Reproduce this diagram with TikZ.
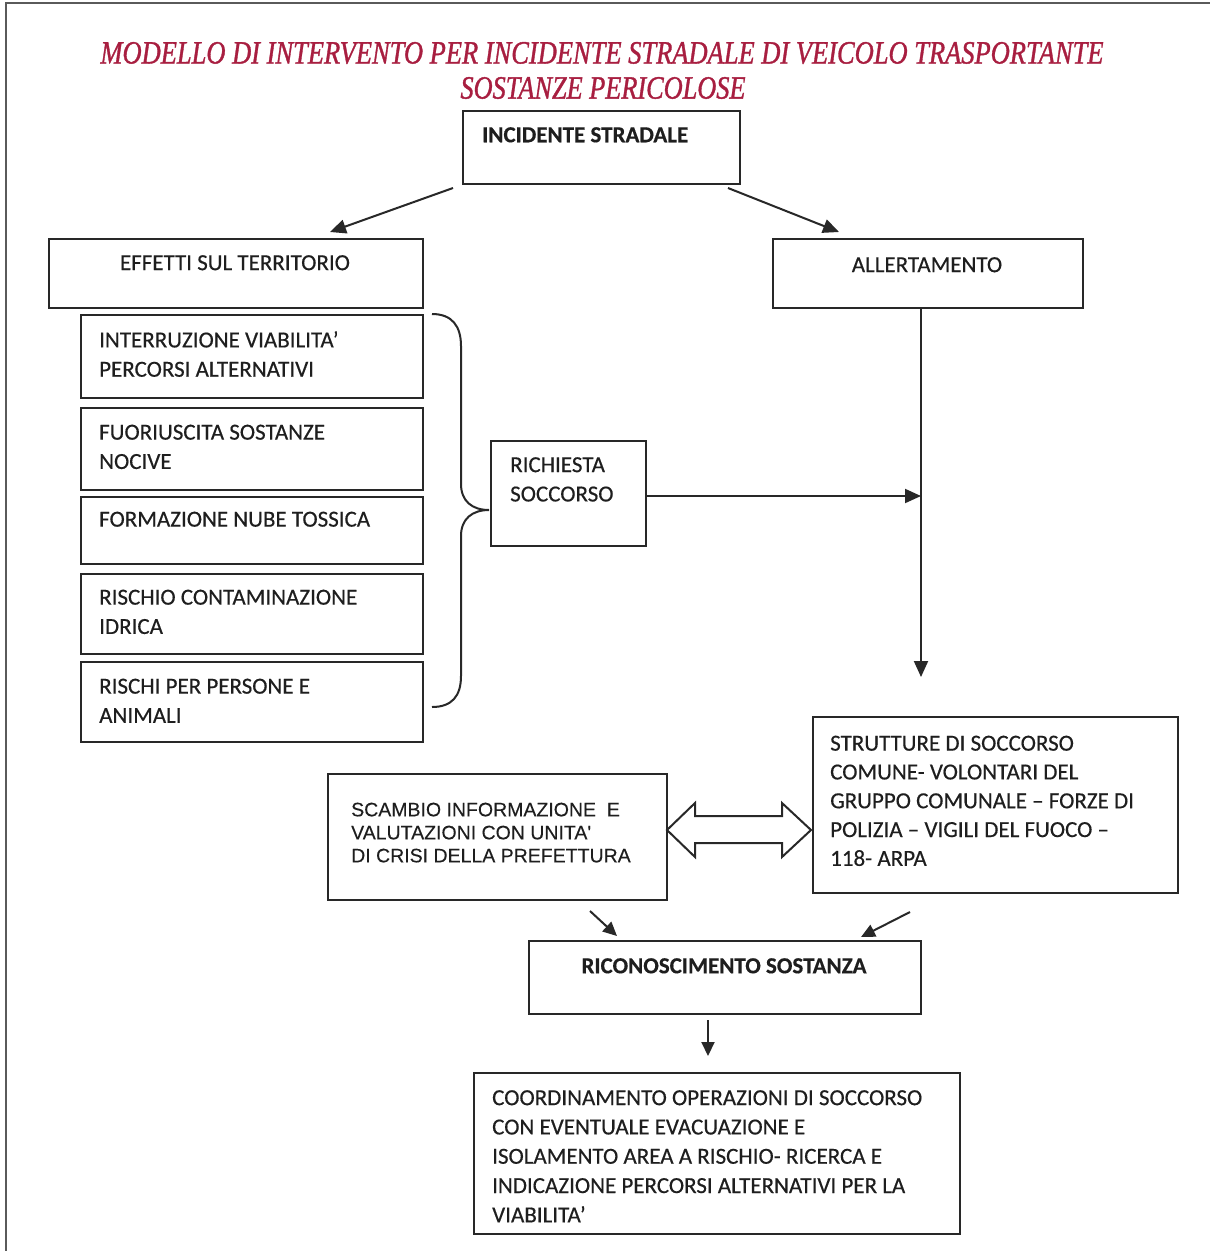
\documentclass[tikz,border=0pt]{standalone}
\usepackage{fontspec}
\usepackage{graphicx}
\setmainfont{Carlito}[FakeBold=0.4]
\newfontfamily\arialf{Liberation Sans}[FakeBold=0.2]
\newfontfamily\titlef{Liberation Serif}[FakeBold=1.2]
\usetikzlibrary{arrows.meta}
\definecolor{titlered}{RGB}{168,30,64}
\definecolor{linec}{RGB}{40,40,40}
\definecolor{txtc}{RGB}{30,30,30}
\definecolor{framec}{RGB}{90,90,90}
\tikzset{
  box/.style={draw=linec, line width=2pt, inner sep=0pt, anchor=north west},
  txt/.style={font=\fontsize{23}{29.3}\selectfont, text=txtc, inner sep=0pt, anchor=north west, align=left},
  btxt/.style={txt, font=\fontsize{23}{29.3}\selectfont\bfseries},
  atxt/.style={txt, font=\arialf\fontsize{19.5}{23}\selectfont},
  arr/.style={draw=linec, line width=2pt, -{Triangle[width=14pt,length=16pt]}},
  sarr/.style={draw=linec, line width=2pt, -{Triangle[width=13pt,length=14pt]}},
}
\begin{document}
\begin{tikzpicture}[x=1pt,y=-1pt]
\useasboundingbox (0,0) rectangle (1210,1251);
\fill[white] (0,0) rectangle (1210,1251);
% frame
\draw[framec, line width=2pt] (6,1251) -- (6,3) -- (1210,3);

% title
\node[inner sep=0pt, text=titlered] (title1) at (602,53)
  {\resizebox{1003pt}{21.5pt}{\titlef\itshape MODELLO DI INTERVENTO PER INCIDENTE STRADALE DI VEICOLO TRASPORTANTE}};
\node[inner sep=0pt, text=titlered] (title2) at (603,88)
  {\resizebox{285pt}{21.5pt}{\titlef\itshape SOSTANZE PERICOLOSE}};

% boxes
\node[box, minimum width=277pt, minimum height=73pt] (inc) at (462,110) {};
\node[btxt] (tinc) at (482,127) {INCIDENTE STRADALE};

\node[box, minimum width=374pt, minimum height=69pt] (eff) at (48,238) {};
\node[txt, anchor=north] (teff) at (235,255) {EFFETTI SUL TERRITORIO};

\node[box, minimum width=310pt, minimum height=69pt] (all) at (772,238) {};
\node[txt, anchor=north] (tall) at (927,257) {ALLERTAMENTO};

\node[box, minimum width=342pt, minimum height=83pt] (b1) at (80,314) {};
\node[txt] (tb1) at (99,331) {INTERRUZIONE VIABILITA'\\PERCORSI ALTERNATIVI};

\node[box, minimum width=342pt, minimum height=82pt] (b2) at (80,407) {};
\node[txt] (tb2) at (99,424.5) {FUORIUSCITA SOSTANZE\\NOCIVE};

\node[box, minimum width=342pt, minimum height=67pt] (b3) at (80,496) {};
\node[txt] (tb3) at (99,511.5) {FORMAZIONE NUBE TOSSICA};

\node[box, minimum width=342pt, minimum height=80pt] (b4) at (80,573) {};
\node[txt] (tb4) at (99,589.5) {RISCHIO CONTAMINAZIONE\\IDRICA};

\node[box, minimum width=342pt, minimum height=80pt] (b5) at (80,661) {};
\node[txt] (tb5) at (99,678.5) {RISCHI PER PERSONE E\\ANIMALI};

\node[box, minimum width=155pt, minimum height=105pt] (ric) at (490,440) {};
\node[txt] (tric) at (510,457) {RICHIESTA\\SOCCORSO};

\node[box, minimum width=365pt, minimum height=176pt] (str) at (812,716) {};
\node[txt, font=\fontsize{23}{28.8}\selectfont] (tstr) at (830,735.5) {STRUTTURE DI SOCCORSO\\COMUNE- VOLONTARI DEL\\GRUPPO COMUNALE -- FORZE DI\\POLIZIA -- VIGILI DEL FUOCO --\\118- ARPA};

\node[box, minimum width=339pt, minimum height=126pt] (sca) at (327,773) {};
\node[atxt] (tsca) at (351,802.5) {SCAMBIO INFORMAZIONE\ \ E\\VALUTAZIONI CON UNITA'\\DI CRISI DELLA PREFETTURA};

\node[box, minimum width=392pt, minimum height=73pt] (rico) at (528,940) {};
\node[btxt, anchor=north] (trico) at (724,958) {RICONOSCIMENTO SOSTANZA};

\node[box, minimum width=486pt, minimum height=161pt] (coo) at (473,1072) {};
\node[txt] (tcoo) at (492,1090) {COORDINAMENTO OPERAZIONI DI SOCCORSO\\CON EVENTUALE EVACUAZIONE E\\ISOLAMENTO AREA A RISCHIO- RICERCA E\\INDICAZIONE PERCORSI ALTERNATIVI PER LA\\VIABILITA'};

% brace
\draw[linec, line width=2pt] (432,314) .. controls (452,314) and (461,326) .. (461,346)
  -- (461,484) .. controls (461,501) and (472,510) .. (489,510)
  .. controls (472,510) and (461,519) .. (461,536)
  -- (461,676) .. controls (461,696) and (452,707) .. (432,707);

% connectors
\coordinate (a1s) at (453,188);
\coordinate (a1e) at (330,232);
\coordinate (a2s) at (728,188);
\coordinate (a2e) at (839,232);
\draw[arr] (a1s) -- (a1e);
\draw[arr] (a2s) -- (a2e);

\coordinate (vtop) at (921,308);
\coordinate (vbot) at (921,677);
\coordinate (vjoin) at (921,496);
\draw[arr] (vtop) -- (vbot);
\draw[arr] (ric.east |- vjoin) -- (vjoin);

% double hollow arrow
\draw[linec, line width=2pt, fill=white, line join=miter]
  (667,830) -- (695,803) -- (695,816) -- (782,816) -- (782,803) -- (811,830)
  -- (782,857) -- (782,843) -- (695,843) -- (695,857) -- cycle;

\coordinate (s1s) at (590,911);
\coordinate (s1e) at (617,936);
\coordinate (s2s) at (910,912);
\coordinate (s2e) at (861,937);
\draw[sarr] (s1s) -- (s1e);
\draw[sarr] (s2s) -- (s2e);

\coordinate (ds) at (708,1020);
\coordinate (de) at (708,1056);
\draw[sarr] (ds) -- (de);
\end{tikzpicture}
\end{document}
